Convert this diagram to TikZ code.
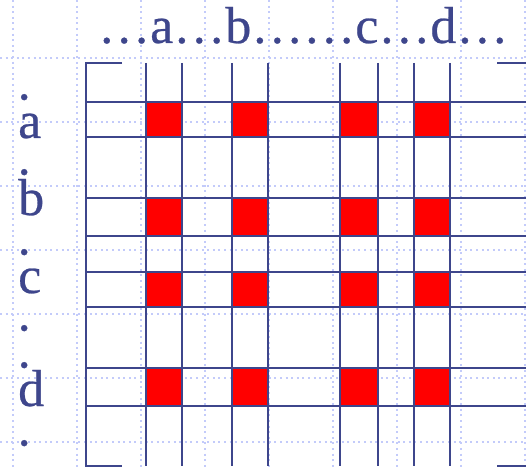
\documentclass[tikz,border=0pt]{standalone}
\usepackage{fontspec}
\setmainfont{Liberation Serif}
\newfontfamily\labelfont[FakeBold=0.5]{Liberation Serif}
\usetikzlibrary{positioning}
\definecolor{ink}{RGB}{62,70,140}
\definecolor{paper}{RGB}{195,203,250}

\begin{document}
\begin{tikzpicture}[
    x=1bp, y=-1bp,
    bggrid/.style={draw=paper, line width=1.6bp, dash pattern=on 2bp off 3.6bp},
    rule/.style={draw=ink, line width=2.6bp},
    hit/.style={fill=red},
    lbl/.style={text=ink, font=\labelfont\fontsize{52bp}{60bp}\selectfont, inner sep=0pt, anchor=base west},
]
\useasboundingbox (0,0) rectangle (526,468);

% dotted background grid
\foreach \x in {13,77,...,525} \draw[bggrid] (\x,0) -- (\x,468);
\foreach \y in {58,122,...,442} \draw[bggrid] (0,\y) -- (526,\y);

% red cells where the rows and columns cross
\foreach \xa/\xb in {146/182, 232/268, 340/378, 414/450}
  \foreach \ya/\yb in {102/137, 198/236, 272/307, 368/406}
    \fill[hit] (\xa,\ya) rectangle (\xb,\yb);

% column and row lines
\foreach \x in {146,182,232,268,340,378,414,450} \draw[rule] (\x,63) -- (\x,466);
\foreach \y in {102,137,198,236,272,307,368,406} \draw[rule] (86,\y) -- (526,\y);

% matrix brackets
\draw[rule] (122,63) -- (86,63) -- (86,466) -- (122,466);
\draw[rule] (497,63) -- (526,63);
\draw[rule] (497,466) -- (526,466);

% column header
\node[lbl] (colhead) at (98,43) {…a…b……c…d…};

% row labels
\node[lbl] (dot1) at (17.5,99.5) {.};
\node[lbl] (rowa) at (18,138) {a};
\node[lbl] (dot2) at (17.5,174.5) {.};
\node[lbl] (rowb) at (18,215) {b};
\node[lbl] (dot3) at (17.5,254.5) {.};
\node[lbl] (rowc) at (18,293) {c};
\node[lbl] (dot4) at (17.5,330.5) {.};
\node[lbl] (dot5) at (17.5,367.5) {.};
\node[lbl] (rowd) at (18,406) {d};
\node[lbl] (dot6) at (17.5,445.5) {.};
\end{tikzpicture}
\end{document}
